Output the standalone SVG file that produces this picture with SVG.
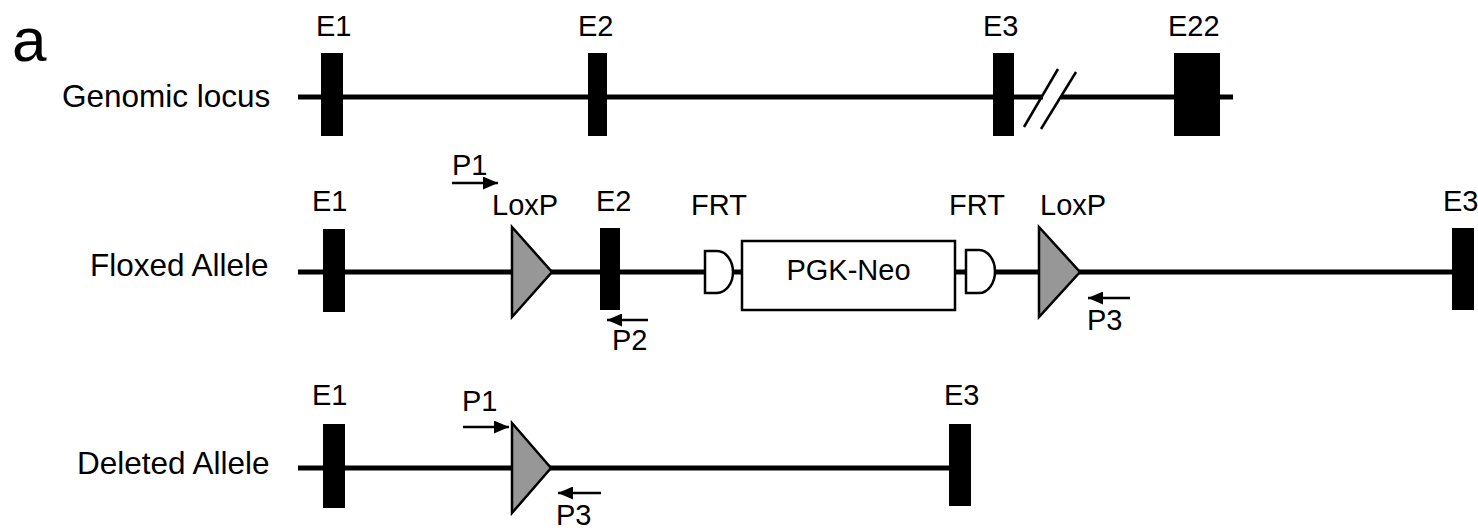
<svg xmlns="http://www.w3.org/2000/svg" width="1478" height="530" viewBox="0 0 1478 530">
<defs>
<marker id="ah" markerUnits="userSpaceOnUse" markerWidth="15" markerHeight="13" refX="15" refY="6.5" orient="auto">
<path d="M0,0 L15,6.5 L0,13 z" fill="#000"/>
</marker>
<style>
text{font-family:"Liberation Sans",Arial,sans-serif;fill:#000}
.lbl{font-size:29px}
.row{font-size:31.5px}
.bb{stroke:#000;stroke-width:5;fill:none}
.ex{fill:#000}
.lox{fill:#979797;stroke:#000;stroke-width:2.5;stroke-linejoin:miter}
.frt{fill:#fff;stroke:#000;stroke-width:2.5}
.pr{stroke:#000;stroke-width:2.5;fill:none;marker-end:url(#ah)}
</style>
</defs>
<rect width="1478" height="530" fill="#fff"/>
<text x="12" y="61" style="font-size:62px">a</text>

<g id="connectors">
<line class="bb" x1="298" y1="97" x2="1043" y2="97"/>
<line class="bb" x1="1061" y1="97" x2="1233" y2="97"/>
<line class="bb" x1="298" y1="272" x2="1460" y2="272"/>
<line class="bb" x1="298" y1="468" x2="965" y2="468"/>
<line class="pr" x1="452" y1="183" x2="498" y2="183"/>
<line class="pr" x1="648" y1="320" x2="607" y2="320"/>
<line class="pr" x1="1130" y1="298" x2="1088" y2="298"/>
<line class="pr" x1="463" y1="427" x2="509" y2="427"/>
<line class="pr" x1="601" y1="493" x2="558" y2="493"/>
</g>

<g id="genomic-locus">
<text class="row" x="62" y="107">Genomic locus</text>
<rect class="ex" x="321" y="53" width="22" height="83"/>
<text class="lbl" x="316" y="36">E1</text>
<rect class="ex" x="588" y="53" width="19" height="83"/>
<text class="lbl" x="578" y="36">E2</text>
<rect class="ex" x="993" y="53" width="21" height="83"/>
<text class="lbl" x="983" y="36">E3</text>
<rect class="ex" x="1174" y="53" width="46" height="83"/>
<text class="lbl" x="1168" y="36">E22</text>
<g id="break">
<line x1="1024" y1="127" x2="1058" y2="69" stroke="#000" stroke-width="2.5"/>
<line x1="1041" y1="129" x2="1076" y2="72" stroke="#000" stroke-width="2.5"/>
</g>
</g>

<g id="floxed-allele">
<text class="row" x="90" y="276">Floxed Allele</text>
<g id="fl-e1"><rect class="ex" x="323" y="229" width="22" height="83"/><text class="lbl" x="312" y="211">E1</text></g>
<g id="fl-p1"><text class="lbl" x="452" y="175">P1</text></g>
<g id="fl-loxp1"><polygon class="lox" points="512,227 552,272 512,317"/><text class="lbl" x="492" y="215">LoxP</text></g>
<g id="fl-e2"><rect class="ex" x="600" y="228" width="20" height="82"/><text class="lbl" x="596" y="211">E2</text></g>
<g id="fl-p2"><text class="lbl" x="612" y="350">P2</text></g>
<g id="fl-frt1"><path class="frt" d="M705,251 H717 A16,21 0 0 1 717,293 H705 Z"/><text class="lbl" x="691" y="215">FRT</text></g>
<g id="fl-pgkneo"><rect x="742" y="241" width="213" height="69" fill="#fff" stroke="#000" stroke-width="2.5"/><text class="lbl" x="848.5" y="280" text-anchor="middle">PGK-Neo</text></g>
<g id="fl-frt2"><path class="frt" d="M966,250 H979 A16,21.5 0 0 1 979,293 H966 Z"/><text class="lbl" x="949" y="215">FRT</text></g>
<g id="fl-loxp2"><polygon class="lox" points="1039,227 1080,272 1039,317"/><text class="lbl" x="1040" y="215">LoxP</text></g>
<g id="fl-p3"><text class="lbl" x="1087" y="330">P3</text></g>
<g id="fl-e3"><rect class="ex" x="1452" y="228" width="22" height="82"/><text class="lbl" x="1443" y="211">E3</text></g>
</g>

<g id="deleted-allele">
<text class="row" x="77" y="474">Deleted Allele</text>
<g id="de-e1"><rect class="ex" x="323" y="424" width="22" height="84"/><text class="lbl" x="312" y="405">E1</text></g>
<g id="de-p1"><text class="lbl" x="462" y="411">P1</text></g>
<g id="de-loxp"><polygon class="lox" points="512,423 551,468 512,513"/></g>
<g id="de-p3"><text class="lbl" x="556" y="525">P3</text></g>
<g id="de-e3"><rect class="ex" x="949" y="424" width="22" height="82"/><text class="lbl" x="944" y="405">E3</text></g>
</g>
</svg>
